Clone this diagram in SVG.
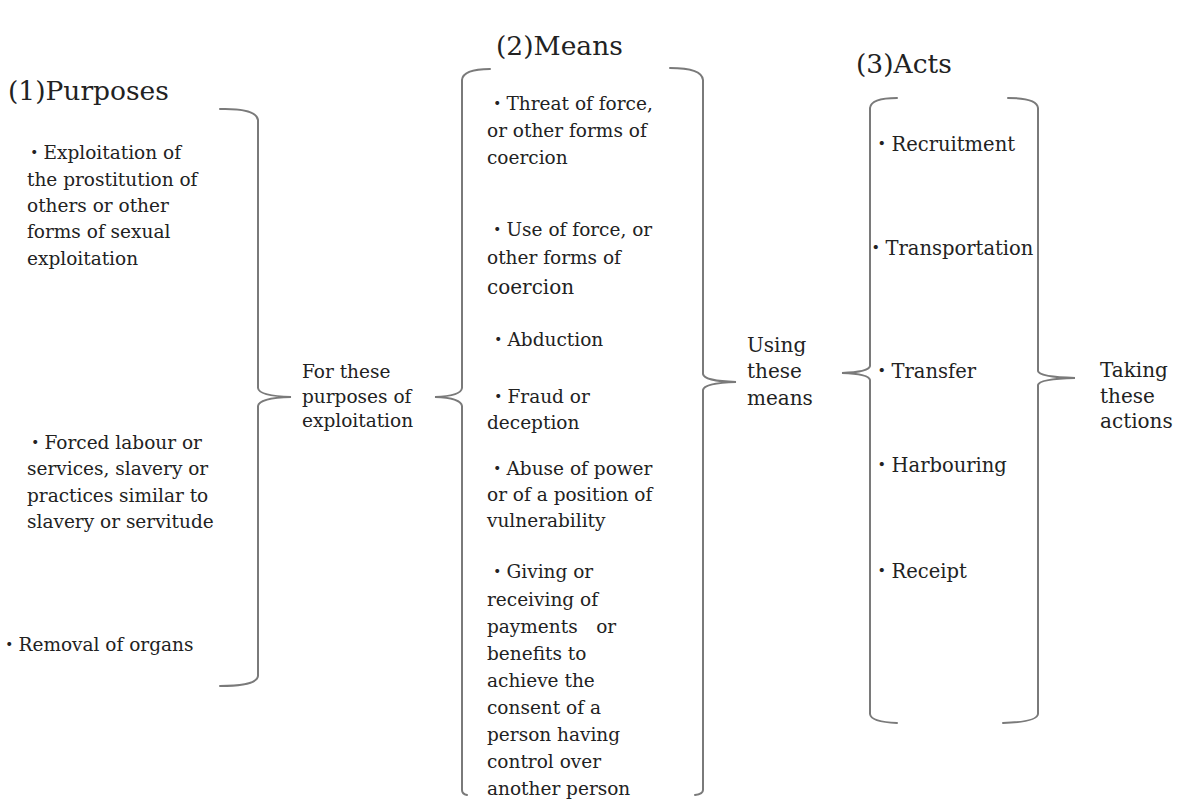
<svg xmlns="http://www.w3.org/2000/svg" width="1182" height="808" viewBox="0 0 1182 808">
<style>
text{font-family:"DejaVu Serif","Noto Sans CJK JP",serif;font-size:18.5px;fill:#222}
.title{font-size:26.5px}
.big{font-size:20px}
.act{font-size:19.5px}
.brace{fill:none;stroke:#7a7a7a;stroke-width:2;stroke-linecap:round}
</style>
<rect width="1182" height="808" fill="#fff"/>
<g id="connectors">
<path class="brace" d="M220,109 Q256,108 258,120 L258,388 Q259,396 291,397 Q259,398 258,406 L258,676 Q257,686 220,686"/>
<path class="brace" d="M490,69 Q463,69 462,80 L462,388 Q461,396 435,397 Q461,398 462,406 L462,790 Q462,794 467,795"/>
<path class="brace" d="M670,68 Q702,68 703,80 L703,374 Q704,381 736,382 Q704,383 703,390 L703,790 Q703,794 695,795"/>
<path class="brace" d="M897,98 Q871,98 870,108 L870,366 Q869,372 842,373 Q869,374 870,380 L870,714 Q871,722 897,723"/>
<path class="brace" d="M1008,98 Q1037,98 1038,108 L1038,371 Q1039,377 1075,378 Q1039,379 1038,385 L1038,714 Q1037,722 1003,723"/>
</g>
<g id="purposes">
<text class="title" x="8" y="100">(1)Purposes</text>
<text x="25" y="159">・Exploitation of</text>
<text x="27" y="186">the prostitution of</text>
<text x="27" y="212">others or other</text>
<text x="27" y="238">forms of sexual</text>
<text x="27" y="265">exploitation</text>
<text x="26" y="449">・Forced labour or</text>
<text x="27" y="475">services, slavery or</text>
<text x="27" y="502">practices similar to</text>
<text x="27" y="528">slavery or servitude</text>
<text x="0" y="651">・Removal of organs</text>
</g>
<g id="purposes-label">
<text x="302" y="378">For these</text>
<text x="302" y="403">purposes of</text>
<text x="302" y="427">exploitation</text>
</g>
<g id="means">
<text class="title" x="496" y="55">(2)Means</text>
<text x="488" y="110">・Threat of force,</text>
<text x="487" y="137">or other forms of</text>
<text x="487" y="164">coercion</text>
<text x="488" y="236">・Use of force, or</text>
<text x="487" y="264">other forms of</text>
<text class="big" x="487" y="294">coercion</text>
<text x="489" y="346">・Abduction</text>
<text x="489" y="403">・Fraud or</text>
<text x="487" y="429">deception</text>
<text x="488" y="475">・Abuse of power</text>
<text x="487" y="501">or of a position of</text>
<text x="487" y="527">vulnerability</text>
<text x="488" y="578">・Giving or</text>
<text x="487" y="606">receiving of</text>
<text x="487" y="633" xml:space="preserve">payments　or</text>
<text x="487" y="660">benefits to</text>
<text x="487" y="687">achieve the</text>
<text x="487" y="714">consent of a</text>
<text x="487" y="741">person having</text>
<text x="487" y="768">control over</text>
<text x="487" y="795">another person</text>
</g>
<g id="means-label">
<text class="big" x="747" y="352">Using</text>
<text class="big" x="747" y="378">these</text>
<text class="big" x="747" y="405">means</text>
</g>
<g id="acts">
<text class="title" x="856" y="73">(3)Acts</text>
<text class="act" x="872" y="151">・Recruitment</text>
<text class="act" x="866" y="255">・Transportation</text>
<text class="act" x="872" y="378">・Transfer</text>
<text class="act" x="872" y="472">・Harbouring</text>
<text class="act" x="872" y="578">・Receipt</text>
</g>
<g id="acts-label">
<text class="big" x="1100" y="377">Taking</text>
<text class="big" x="1100" y="403">these</text>
<text class="big" x="1100" y="428">actions</text>
</g>
</svg>
